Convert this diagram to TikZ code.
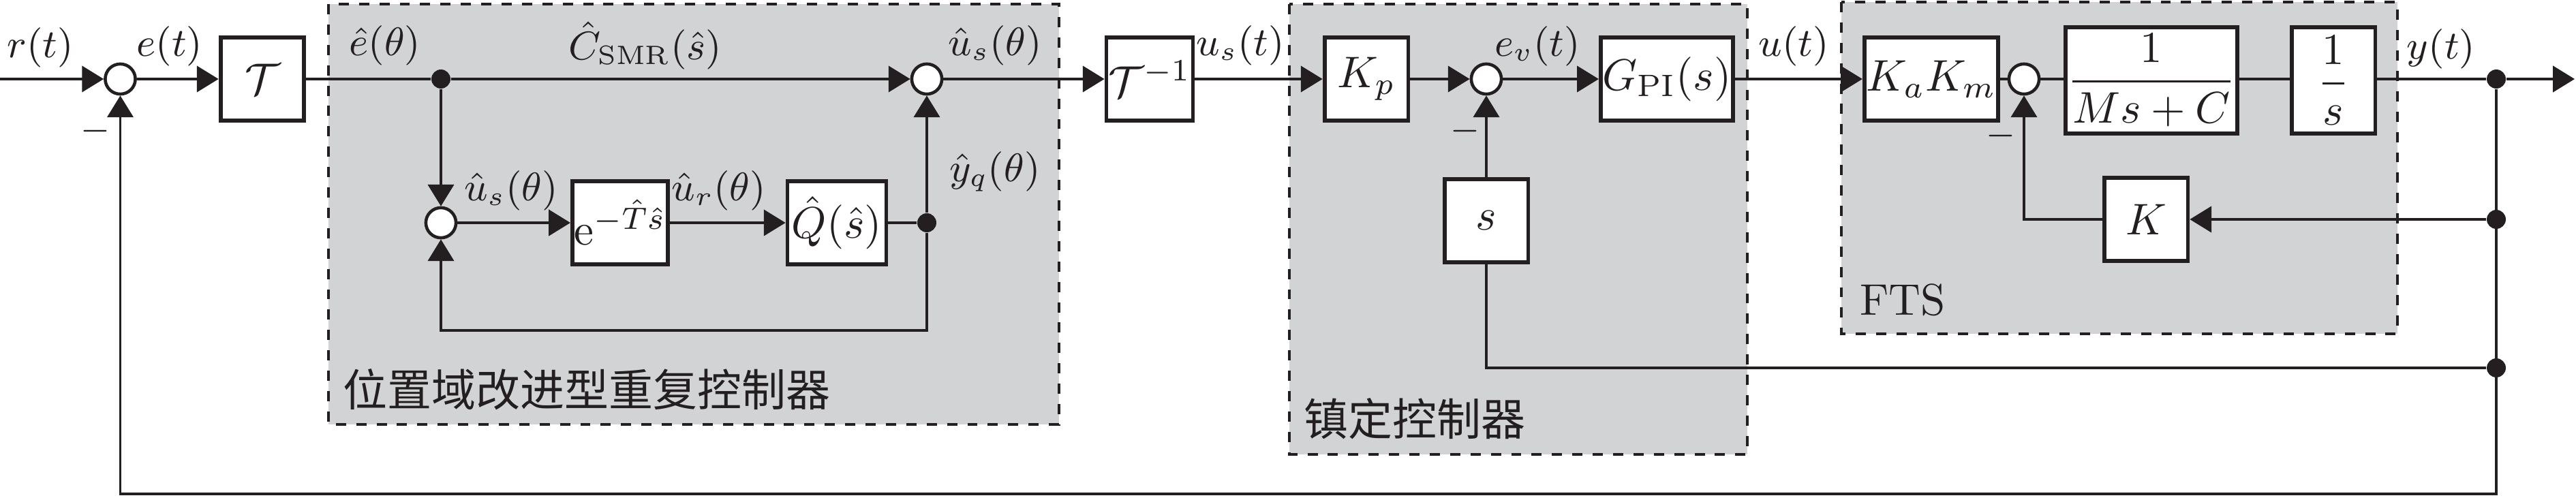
\documentclass[tikz,border=0pt]{standalone}
\usepackage{amsmath}
\usepackage{fontspec}
\newfontfamily\cjk{Noto Sans CJK SC}
\usetikzlibrary{arrows.meta}
\definecolor{ink}{RGB}{35,31,32}
\definecolor{regiongray}{RGB}{209,211,212}
\begin{document}
\begin{tikzpicture}[x=0.5408cm,y=-0.5408cm,color=ink,
   sig/.style={line width=0.5pt},
   arr/.style={sig,-{Triangle[length=4.9pt,width=5.9pt]}},
   blk/.style={draw,fill=white,line width=0.9pt,minimum width=18.9pt,minimum height=18.9pt,inner sep=0.4pt},
   sumc/.style={draw,circle,fill=white,line width=0.7pt,minimum size=6.8pt,inner sep=0pt},
   jdot/.style={circle,fill,inner sep=0pt,minimum size=4.3pt},
   region/.style={fill=regiongray,line width=0.6pt,dash pattern=on 2.3pt off 2.3pt},
   lbl/.style={inner sep=0pt},
   mlbl/.style={lbl,font=\fontsize{9pt}{11pt}\selectfont}]
   \useasboundingbox (0,0) rectangle (37.80,7.31);
   \draw[region] (4.82,0.06) rectangle (15.54,6.23);
   \draw[region] (18.92,0.06) rectangle (25.64,6.67);
   \draw[region] (27.02,0.03) rectangle (35.18,4.90);
   \coordinate (rin) at (0,1.16);
   \node[sumc] (sum1) at (1.765,1.16) {};
   \node[blk] (Tbox) at (3.85,1.16) {$\mathcal{T}$};
   \node[jdot] (dot1) at (6.47,1.16) {};
   \node[sumc] (sum2) at (13.60,1.16) {};
   \node[sumc] (isum) at (6.47,3.27) {};
   \node[blk] (expbox) at (9.10,3.27) {$\mathrm{e}^{-\hat{T}\hat{s}}$};
   \node[blk,minimum width=22.3pt] (qbox) at (12.28,3.27) {$\hat{Q}(\hat{s})$};
   \node[jdot] (dot2) at (13.60,3.27) {};
   \coordinate (loop) at (6.47,4.85);
   \node[blk] (Tinv) at (16.87,1.16) {$\mathcal{T}^{-1}$};
   \node[blk] (Kp) at (20.05,1.16) {$K_p$};
   \node[sumc] (sum3) at (21.81,1.16) {};
   \node[blk,minimum width=29.1pt] (GPI) at (24.46,1.16) {$G_{\mathrm{PI}}(s)$};
   \node[blk] (sbox) at (21.81,3.24) {$s$};
   \node[blk,minimum width=26.9pt] (KaKm) at (28.34,1.16) {$K_aK_m$};
   \node[sumc] (sum4) at (29.70,1.16) {};
   \node[blk,minimum width=36.6pt,minimum height=23.9pt] (frac) at (31.57,1.18) {$\dfrac{1}{Ms+C}$};
   \node[blk,minimum height=23.9pt] (oneS) at (34.24,1.18) {$\dfrac{1}{s}$};
   \node[jdot] (dot3) at (36.63,1.16) {};
   \coordinate (yend) at (37.78,1.16);
   \node[blk] (Kbox) at (31.49,3.22) {$K$};
   \node[jdot] (dot4) at (36.63,3.22) {};
   \node[jdot] (dot5) at (36.63,5.40) {};
   \coordinate (fbR) at (36.63,7.25);
   \coordinate (fbL) at (1.765,7.25);
   \node[mlbl] (rlbl) at (0.59,0.70) {$r(t)$};
   \node[mlbl] (elbl) at (2.49,0.68) {$e(t)$};
   \node[mlbl] (ehlbl) at (5.65,0.67) {$\hat{e}(\theta)$};
   \node[mlbl] (clbl) at (9.47,0.67) {$\hat{C}_{\mathrm{SMR}}(\hat{s})$};
   \node[mlbl] (uslbl) at (14.60,0.67) {$\hat{u}_s(\theta)$};
   \node[mlbl] (uilbl) at (7.50,2.80) {$\hat{u}_s(\theta)$};
   \node[mlbl] (urlbl) at (10.55,2.80) {$\hat{u}_r(\theta)$};
   \node[mlbl] (yqlbl) at (14.60,2.52) {$\hat{y}_q(\theta)$};
   \node[lbl,anchor=west] (rclbl) at (5.02,5.72) {\cjk 位置域改进型重复控制器};
   \node[mlbl] (ustlbl) at (18.20,0.67) {$u_s(t)$};
   \node[mlbl] (evlbl) at (22.56,0.68) {$e_v(t)$};
   \node[mlbl] (ulbl) at (26.32,0.68) {$u(t)$};
   \node[lbl,anchor=west] (sclbl) at (19.12,6.15) {\cjk 镇定控制器};
   \node[lbl,anchor=west] (ftslbl) at (27.28,4.40) {FTS};
   \node[mlbl] (ylbl) at (35.82,0.72) {$y(t)$};
   \node[lbl] (m1) at (1.40,1.93) {\footnotesize$-$};
   \node[lbl] (m3) at (21.50,1.93) {\footnotesize$-$};
   \node[lbl] (m4) at (29.36,2.00) {\footnotesize$-$};
   \draw[arr] (rin) -- (sum1);
   \draw[arr] (sum1) -- (Tbox);
   \draw[sig] (Tbox) -- (dot1);
   \draw[arr] (dot1) -- (sum2);
   \draw[arr] (dot1) -- (isum);
   \draw[arr] (isum) -- (expbox);
   \draw[arr] (expbox) -- (qbox);
   \draw[sig] (qbox) -- (dot2);
   \draw[arr] (dot2) -- (sum2);
   \draw[arr] (dot2) |- (loop) -- (isum);
   \draw[arr] (sum2) -- (Tinv);
   \draw[arr] (Tinv) -- (Kp);
   \draw[arr] (Kp) -- (sum3);
   \draw[arr] (sum3) -- (GPI);
   \draw[arr] (GPI) -- (KaKm);
   \draw[sig] (KaKm) -- (sum4) -- (sum4 -| frac.west);
   \draw[sig] (frac.east |- sum4) -- (oneS.west |- sum4);
   \draw[sig] (oneS.east |- sum4) -- (dot3);
   \draw[arr] (dot3) -- (yend);
   \draw[arr] (dot3) -- (fbR) -- (fbL) -- (sum1);
   \draw[arr] (dot4) -- (Kbox);
   \draw[arr] (Kbox) -| (sum4);
   \draw[sig] (dot5) -| (sbox);
   \draw[arr] (sbox) -- (sum3);
\end{tikzpicture}
\end{document}
